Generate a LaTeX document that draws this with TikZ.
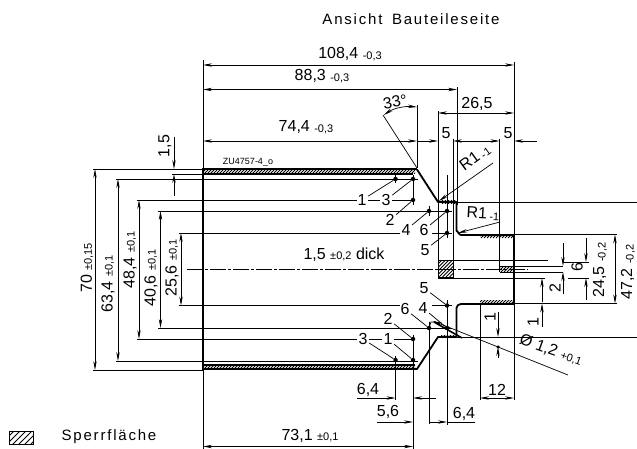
\documentclass[tikz,border=0pt]{standalone}
\usepackage{fontspec}
\setmainfont{Liberation Sans}
\newfontfamily\spacedfont[LetterSpace=12,WordSpace=1.6]{Liberation Sans}
\usetikzlibrary{arrows.meta}
\newcommand{\tol}[1]{{\fontsize{11}{11}\selectfont #1}}
\newcommand{\lowtol}[1]{\raisebox{-1.5pt}{\tol{#1}}}
\newcommand{\hatchbox}[5]{\begin{scope}
	\clip (#1,#2) rectangle (#3,#4);
	\foreach \h in {0,#5,...,240} \draw [line width=0.8pt] (#1-20+\h,#4) -- (#1+\h,#4-20);
\end{scope}}

\begin{document}
\begin{tikzpicture}[x=1pt,y=-1pt]
	\tikzstyle{thin line} = [line width=0.7pt]
	\tikzstyle{outline} = [line width=1.8pt, line join=round]
	\tikzstyle{centre} = [line width=0.7pt, dash pattern=on 16pt off 2pt on 3pt off 2pt]
	\tikzstyle{arrow} = [line width=0.7pt,-{Stealth[length=9pt,width=3.4pt]}]
	\tikzstyle{darrow} = [line width=0.7pt,{Stealth[length=9pt,width=3.4pt]}-{Stealth[length=9pt,width=3.4pt]}]
	\tikzstyle{dot} = [circle, fill=black, inner sep=0pt, minimum size=4.5pt]
	\tikzstyle{dim} = [font=\fontsize{16}{16}\selectfont, inner sep=1pt]
	\tikzstyle{num} = [font=\fontsize{16}{16}\selectfont, inner sep=1.5pt]
	\useasboundingbox (0,0) rectangle (637,449);

	% hatched areas
	\hatchbox{203}{169}{415}{174}{3}
	\hatchbox{203}{365}{415}{369}{3}
	\hatchbox{480}{234}{514}{238}{3}
	\hatchbox{480}{300}{514}{304}{3}
	\hatchbox{438}{260}{453}{277}{3.5}
	\hatchbox{500}{266}{514}{272}{3}
	\hatchbox{441}{201}{456}{204}{3}
	\hatchbox{441}{335}{456}{338}{3}
	\hatchbox{9}{431}{33}{444}{6}
	\draw [thin line] (9,431) rectangle (33,444);

	% part outline
	\draw [outline] (203,174) -- (413,174);
	\draw [line width=1.1pt] (203,169) -- (417,169);
	\draw [outline] (417,169.5) -- (438,202) -- (456.5,202) -- (456.5,231) to[out=90,in=180] (461,235) -- (514,235) -- (514,304) -- (461,304) to[out=180,in=90] (456.5,308) -- (456.5,337) -- (438,337) -- (417,369) -- (203,369);
	\draw [line width=1.1pt] (203,365) -- (415,365);
	\draw [line width=1.4pt] (203,168) -- (203,370);
	\draw [thin line] (438,260) -- (438,277) -- (453,277) -- (453,260) -- cycle;

	% centre line
	\draw [centre] (187,269.5) -- (528,269.5);

	% extension lines
	\draw [thin line] (203,60) -- (203,449);
	\draw [thin line] (514,62) -- (514,400);
	\draw [thin line] (457,87) -- (457,205);
	\draw [thin line] (438,111) -- (438,278);
	\draw [thin line] (453,139) -- (453,260);
	\draw [thin line] (499.5,139) -- (499.5,272);
	\draw [thin line] (480,303) -- (480,400);
	\draw [thin line] (417,105) -- (417,168);
	\draw [thin line] (383,115) -- (417,168);
	\draw [thin line] (93,169) -- (203,169);
	\draw [thin line] (172,174) -- (203,174);
	\draw [thin line] (93,370) -- (203,370);
	\draw [thin line] (116,179) -- (418,179);
	\draw [thin line] (116,361) -- (418,361);
	\draw [thin line] (137,200) -- (357,200);
	\draw [thin line] (137,339) -- (357,339);
	\draw [thin line] (158,211) -- (452,211);
	\draw [thin line] (158,328) -- (452,328);
	\draw [thin line] (179,233) -- (400,233);
	\draw [thin line] (432,233) -- (452,233);
	\draw [thin line] (179,305.5) -- (400,305.5);
	\draw [thin line] (432,305.5) -- (452,305.5);
	\draw [thin line] (395.5,175) -- (395.5,183);
	\draw [thin line] (395.5,356) -- (395.5,400);
	\draw [thin line] (413,175) -- (413,205);
	\draw [thin line] (413,335) -- (413,449);
	\draw [thin line] (429,206) -- (429,216);
	\draw [thin line] (429,322) -- (429,424);
	\draw [thin line] (447,175) -- (447,238);
	\draw [thin line] (447,300) -- (447,425);
	\draw [thin line] (438,202) -- (637,202);
	\draw [thin line] (457,337) -- (637,337);
	\draw [thin line] (514,234.5) -- (617,234.5);
	\draw [thin line] (514,303.5) -- (617,303.5);
	\draw [thin line] (438,260) -- (548,260);
	\draw [thin line] (438,278) -- (545,278);
	\draw [thin line] (500,266) -- (563,266);
	\draw [thin line] (500,272) -- (563,272);
	\draw [thin line] (563,262) -- (589,262);
	\draw [thin line] (568,278) -- (589,278);

	% dimension lines, width
	\draw [darrow] (203,65) -- (514,65);
	\draw [darrow] (203,89.5) -- (457,89.5);
	\draw [darrow] (203,141) -- (417,141);
	\draw [darrow] (438,113) -- (514,113);
	\draw [arrow] (417,141) -- (438,141);
	\draw [arrow] (476,141) -- (453,141);
	\draw [arrow] (476,141) -- (499.5,141);
	\draw [arrow] (537,141) -- (514,141);
	\draw [darrow] (384,115) .. controls (394,108) and (405,106) .. (417,107);
	\draw [arrow] (357,398) -- (395.5,398);
	\draw [arrow] (436,398) -- (413,398);
	\draw [arrow] (377,422) -- (413,422);
	\draw [arrow] (429,422) -- (447,422);
	\draw [thin line] (447,422) -- (475,422);
	\draw [darrow] (480,398) -- (514,398);
	\draw [darrow] (203,446.5) -- (413,446.5);

	% dimension lines, height
	\draw [darrow] (95,169) -- (95,370);
	\draw [darrow] (118,179) -- (118,361);
	\draw [darrow] (139,200) -- (139,339);
	\draw [darrow] (160.5,211) -- (160.5,328);
	\draw [darrow] (181,233) -- (181,305.5);
	\draw [arrow] (174,137) -- (174,169);
	\draw [arrow] (174,196) -- (174,174);
	\draw [arrow] (563,243) -- (563,266);
	\draw [arrow] (563,294) -- (563,272);
	\draw [arrow] (586,238) -- (586,262);
	\draw [arrow] (586,300) -- (586,278);
	\draw [darrow] (615,234.5) -- (615,303.5);
	\draw [arrow] (542,302) -- (542,278);
	\draw [arrow] (542,327) -- (542,303.5);
	\draw [arrow] (498,312) -- (498,337);
	\draw [arrow] (498,358) -- (498,347);

	% radius and drill leaders
	\draw [arrow] (493,163) -- (439,201);
	\draw [arrow] (500,222) -- (458,233);
	\draw [arrow] (568,375) -- (433,321);
	\draw [line width=1.6pt] (434,322) -- (462,338);
	\draw [thin line] (429,328) -- (431,322) -- (435,322);
	\node (drillhole) [dot, minimum size=3.5pt] at (498,347) {};

	% feature points, top
	\node (featAtop) [dot] at (395.5,179) {};
	\node (featBtop) [dot] at (413,179) {};
	\node (featCtop) [dot] at (413,200) {};
	\node (featDtop) [dot] at (429,211) {};
	\node (featEtop) [dot] at (447,211) {};
	\node (featFtop) [dot] at (447,233) {};
	\node (oneTop) [num] at (362,200) {1};
	\node (threeTop) [num] at (386,200) {3};
	\node (twoTop) [num] at (390,220) {2};
	\node (fourTop) [num] at (406,230) {4};
	\node (sixTop) [num] at (424,230) {6};
	\node (fiveTop) [num] at (425,250) {5};
	\draw [thin line] (oneTop) -- (featAtop);
	\draw [thin line] (threeTop) -- (featBtop);
	\draw [thin line] (threeTop) -- (featCtop);
	\draw [thin line] (oneTop) -- (threeTop);
	\draw [thin line] (twoTop) -- (featCtop);
	\draw [thin line] (fourTop) -- (featDtop);
	\draw [thin line] (sixTop) -- (featEtop);
	\draw [thin line] (fiveTop) -- (featFtop);

	% feature points, bottom
	\node (featAbot) [dot] at (395.5,360) {};
	\node (featBbot) [dot] at (413,360) {};
	\node (featCbot) [dot] at (413,339) {};
	\node (featDbot) [dot] at (429,328) {};
	\node (featEbot) [dot] at (447,328) {};
	\node (featFbot) [dot] at (447,305.5) {};
	\node (threeBot) [num] at (363,339) {3};
	\node (oneBot) [num] at (388,339) {1};
	\node (twoBot) [num] at (388,319) {2};
	\node (sixBot) [num] at (405,309) {6};
	\node (fourBot) [num] at (423,308) {4};
	\node (fiveBot) [num] at (424,288) {5};
	\draw [thin line] (threeBot) -- (oneBot);
	\draw [thin line] (oneBot) -- (featCbot);
	\draw [thin line] (threeBot) -- (featAbot);
	\draw [thin line] (oneBot) -- (featBbot);
	\draw [thin line] (twoBot) -- (featCbot);
	\draw [thin line] (sixBot) -- (featDbot);
	\draw [thin line] (fourBot) -- (featEbot);
	\draw [thin line] (fiveBot) -- (featFbot);

	% labels
	\node (title) [dim, font=\fontsize{15}{15}\selectfont\spacedfont] at (411,19) {Ansicht Bauteileseite};
	\node (legend) [dim, font=\fontsize{15}{15}\selectfont\spacedfont] at (109,437) {Sperrfläche};
	\node (partno) [inner sep=0pt, font=\fontsize{9}{9}\selectfont] at (248,162) {ZU4757-4\_o};
	\node (totalwidth) [dim] at (350,54) {108,4 \lowtol{-0,3}};
	\node (widthB) [dim] at (322,76) {88,3 \lowtol{-0,3}};
	\node (widthC) [dim] at (306,127) {74,4 \lowtol{-0,3}};
	\node (widthD) [dim] at (477,104) {26,5};
	\node (fiveA) [dim] at (446,133) {5};
	\node (fiveB) [dim] at (508,133) {5};
	\node (angle) [dim, rotate=10] at (395,102) {33°};
	\node (radiusA) [dim, rotate=36] at (475,158) {R1\,\lowtol{-1}};
	\node (radiusB) [dim, rotate=-3] at (483,214) {R1\,\lowtol{-1}};
	\node (thickness) [dim] at (344,255) {1,5 \tol{±0,2} dick};
	\node (heightA) [dim, rotate=90] at (87,268) {70 \tol{±0,15}};
	\node (heightB) [dim, rotate=90] at (108,284) {63,4 \tol{±0,1}};
	\node (heightC) [dim, rotate=90] at (130,260) {48,4 \tol{±0,1}};
	\node (heightD) [dim, rotate=90] at (151,278) {40,6 \tol{±0,1}};
	\node (heightE) [dim, rotate=90] at (172,268) {25,6 \tol{±0,1}};
	\node (strip) [dim, rotate=90] at (165,146) {1,5};
	\node (drill) [dim, rotate=-20] at (551,350) {Ø 1,2 \tol{+0,1}};
	\node (stepA) [dim, rotate=90] at (490,317) {1};
	\node (stepB) [dim, rotate=90] at (533,322) {1};
	\node (stepC) [dim, rotate=90] at (555,288) {2};
	\node (stepD) [dim, rotate=90] at (577,267) {6};
	\node (heightF) [dim, rotate=90] at (600,270) {24,5 \lowtol{-0,2}};
	\node (heightG) [dim, rotate=90] at (628,272) {47,2 \lowtol{-0,2}};
	\node (bottomA) [dim] at (368,390) {6,4};
	\node (bottomB) [dim] at (388,412) {5,6};
	\node (bottomC) [dim] at (464,414) {6,4};
	\node (bottomD) [dim] at (497,390) {12};
	\node (bottomE) [dim] at (310,436) {73,1 \tol{±0,1}};
\end{tikzpicture}
\end{document}
